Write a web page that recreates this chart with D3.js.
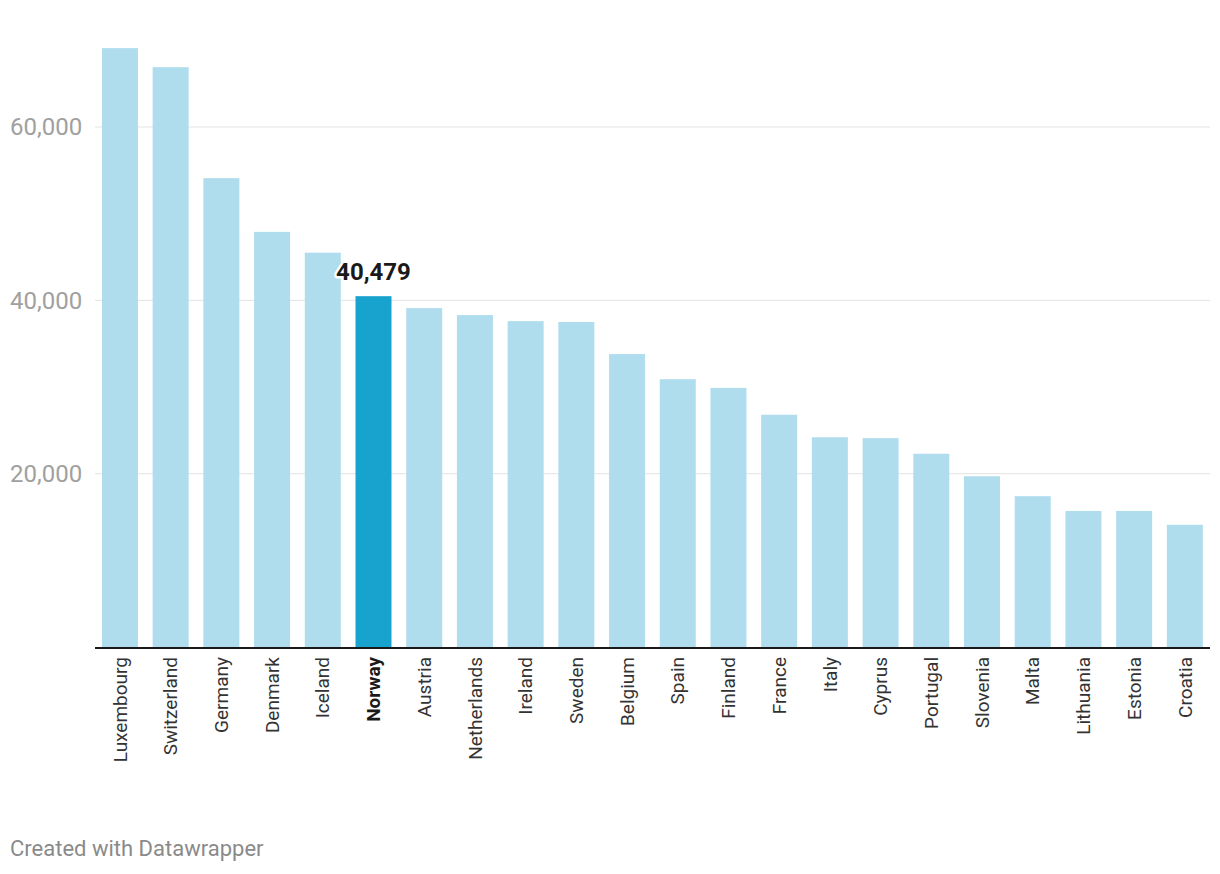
<!DOCTYPE html>
<html>
<head>
<meta charset="utf-8">
<script src="https://cdn.jsdelivr.net/npm/d3@7"></script>
<style>
  body { margin: 0; background: #fff; font-family: Roboto, sans-serif; }
</style>
</head>
<body>
<svg id="chart" width="1220" height="874"></svg>
<script>
// Countries, sorted as in the chart
var countries = ['Luxembourg', 'Switzerland', 'Germany', 'Denmark', 'Iceland', 'Norway',
    'Austria', 'Netherlands', 'Ireland', 'Sweden', 'Belgium', 'Spain', 'Finland', 'France',
    'Italy', 'Cyprus', 'Portugal', 'Slovenia', 'Malta', 'Lithuania', 'Estonia', 'Croatia'];
var values = [69100, 66900, 54100, 47900, 45500, 40479,
    39100, 38300, 37600, 37500, 33800, 30900, 29900, 26800,
    24200, 24100, 22300, 19700, 17400, 15700, 15700, 14100];
var y_ticks = [20000, 40000, 60000];
var highlight = 'Norway';

var svg = d3.select('#chart');
var fmt = d3.format(',');

var x = d3.scaleBand()
    .domain(countries)
    .range([94.6, 1210.2])
    .paddingInner(0.29)
    .paddingOuter(0.145);
var y = d3.scaleLinear()
    .domain([0, 60000])
    .range([647, 127]);

// Gridlines and tick labels
var grid = svg.append('g');
grid.selectAll('line').data(y_ticks).enter().append('line')
    .attr('x1', 95).attr('x2', 1210)
    .attr('y1', function (d) { return y(d); })
    .attr('y2', function (d) { return y(d); })
    .attr('stroke', '#e3e3e3').attr('stroke-width', 1);
grid.selectAll('text').data(y_ticks).enter().append('text')
    .attr('x', 10)
    .attr('y', function (d) { return y(d); })
    .attr('dy', '0.35em')
    .attr('fill', '#a0a0a0')
    .style('font-size', '24px')
    .text(function (d) { return fmt(d); });

// Bars
var data = countries.map(function (c, i) { return { name: c, value: values[i] }; });
svg.append('g').selectAll('rect').data(data).enter().append('rect')
    .attr('x', function (d) { return x(d.name); })
    .attr('width', x.bandwidth())
    .attr('y', function (d) { return y(d.value); })
    .attr('height', function (d) { return y(0) - y(d.value); })
    .attr('fill', function (d) { return d.name === highlight ? '#18a3cf' : '#afdded'; });

// Baseline
svg.append('line')
    .attr('x1', 95).attr('x2', 1210)
    .attr('y1', y(0) + 1).attr('y2', y(0) + 1)
    .attr('stroke', '#1a1a1a').attr('stroke-width', 2);

// Category labels
svg.append('g').selectAll('text').data(data).enter().append('text')
    .attr('transform', function (d) {
        return 'translate(' + (x(d.name) + x.bandwidth() / 2) + ',' + (y(0) + 10) + ') rotate(-90)';
    })
    .attr('text-anchor', 'end')
    .attr('dy', '0.35em')
    .attr('fill', function (d) { return d.name === highlight ? '#1a1a1a' : '#333'; })
    .style('font-size', '19px')
    .style('font-weight', function (d) { return d.name === highlight ? 'bold' : 'normal'; })
    .text(function (d) { return d.name; });

// Value label for highlighted bar
var hl = data.filter(function (d) { return d.name === highlight; })[0];
var lbl = svg.append('g');
['halo', 'text'].forEach(function (k) {
    lbl.append('text')
        .attr('x', x(hl.name) + x.bandwidth() / 2)
        .attr('y', y(hl.value) - 16)
        .attr('text-anchor', 'middle')
        .style('font-size', '24px')
        .style('font-weight', 'bold')
        .attr('fill', '#1a1a1a')
        .attr('stroke', k === 'halo' ? '#fff' : 'none')
        .attr('stroke-width', k === 'halo' ? 5 : 0)
        .attr('stroke-linejoin', 'round')
        .text(fmt(hl.value));
});

// Footer
svg.append('text')
    .attr('x', 10).attr('y', 856)
    .attr('fill', '#8a8a8a')
    .style('font-size', '22px')
    .text('Created with Datawrapper');
</script>
</body>
</html>
